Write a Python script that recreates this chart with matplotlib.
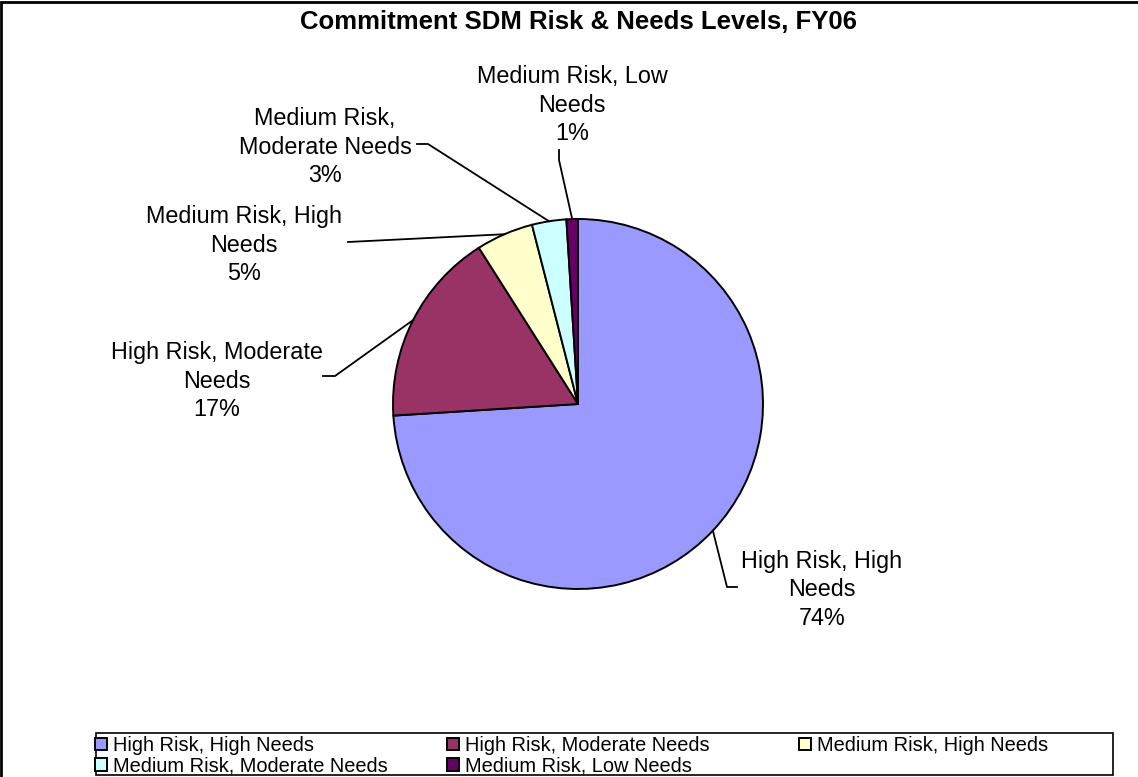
import matplotlib
matplotlib.use("Agg")
import matplotlib.pyplot as plt
import numpy as np
from matplotlib.patches import Rectangle

plt.rcParams['font.family'] = ['Liberation Sans', 'DejaVu Sans']

title = "Commitment SDM Risk & Needs Levels, FY06"
categories = ["High Risk, High Needs", "High Risk, Moderate Needs",
              "Medium Risk, High Needs", "Medium Risk, Moderate Needs",
              "Medium Risk, Low Needs"]
label_text = ["High Risk, High\nNeeds", "High Risk, Moderate\nNeeds",
              "Medium Risk, High\nNeeds", "Medium Risk,\nModerate Needs",
              "Medium Risk, Low\nNeeds"]
values = [74, 17, 5, 3, 1]
colors = ["#9999FF", "#993366", "#FFFFCC", "#CCFFFF", "#660066"]

W, H = 1138, 777
fig = plt.figure(figsize=(W / 100, H / 100), dpi=100)
ax = fig.add_axes([0, 0, 1, 1])


def py(y):
    return H - y


cx, cy, R = 578, py(404), 185
wedges, _ = ax.pie(values, colors=colors, startangle=90, counterclock=False,
                   center=(cx, cy), radius=R,
                   wedgeprops=dict(edgecolor='black', linewidth=1.4))
ax.set_xlim(0, W)
ax.set_ylim(0, H)
ax.set_aspect('equal')
ax.axis('off')

# outer chart border (right/bottom edges are outside the picture)
ax.add_patch(Rectangle((1.5, -30), W + 60, py(1.5) + 30, fill=False,
                       edgecolor='black', linewidth=2.0, clip_on=False))

ax.text(578, py(22), title, ha='center', va='center', fontsize=18.5,
        fontweight='bold')

# data labels with leader lines (layout positions)
label_pos = [(822, 590), (217, 381), (244, 245), (325, 147), (572, 105)]
elbows = [[(737, 587), (727, 587)],
          [(323, 376), (335, 376)],
          [(348, 242)],
          [(417, 144), (428, 144)],
          [(559, 150), (559, 160)]]

total = sum(values)
cum = 0
for i, v in enumerate(values):
    mid = np.deg2rad(90 - 360 * (cum + v / 2) / total)
    cum += v
    ex, ey = cx + R * np.cos(mid), cy + R * np.sin(mid)
    pts = [(x, py(y)) for x, y in elbows[i]] + [(ex, ey)]
    ax.plot([p[0] for p in pts], [p[1] for p in pts], color='black', lw=1.3)
    lx, ly = label_pos[i]
    ax.text(lx, py(ly), f"{label_text[i]}\n{v}%", ha='center', va='center',
            fontsize=16.8, linespacing=1.3)

# legend frame
ax.add_patch(Rectangle((96, py(775)), 1113 - 96, 775 - 733, fill=False,
                       edgecolor='black', linewidth=1.2))

col_x = [95, 447, 799]
columns = [[0, 3], [1, 4], [2]]
legs = []
for j, idx in enumerate(columns):
    leg = ax.legend([wedges[k] for k in idx], [categories[k] for k in idx],
                    loc='upper left', bbox_to_anchor=(col_x[j], py(736)),
                    bbox_transform=ax.transData, frameon=False,
                    fontsize=14.4, handlelength=0.6, handleheight=0.6,
                    handletextpad=0.3, labelspacing=0.08, borderpad=0,
                    borderaxespad=0)
    legs.append(leg)
for leg in legs[:-1]:
    ax.add_artist(leg)

fig.savefig("out.png", dpi=100)
